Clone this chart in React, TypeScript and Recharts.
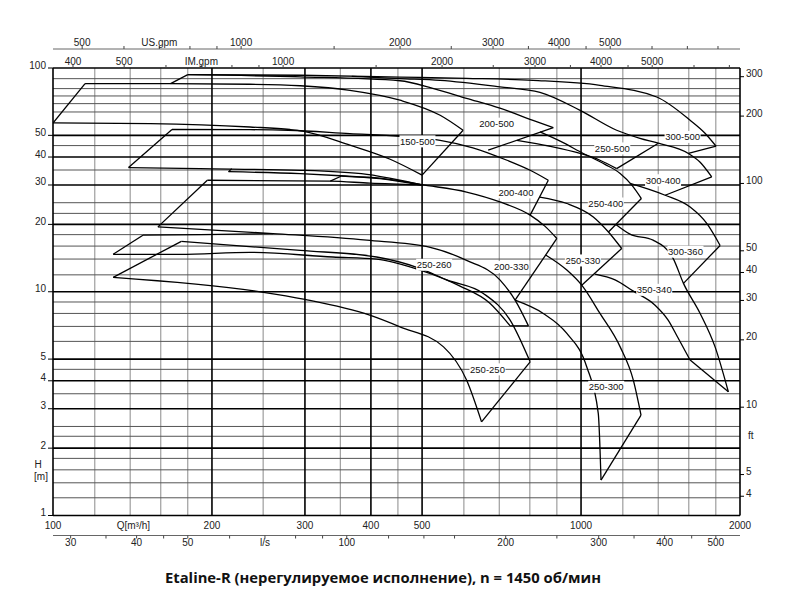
import React from 'react'
import { LineChart, Line, XAxis, YAxis, ReferenceLine, ReferenceDot } from 'recharts'

// every point is [Q m³/h, H m]
type Pt = [number, number]

// ── impeller curves ──
const top150_500: Pt[] = [[115, 85.2], [153, 85.2], [236, 84.6], [294, 83.3], [365, 79.5], [454, 71.8], [541, 61.5], [598, 52.7]]
const bot150_500: Pt[] = [[100, 56.8], [153, 56.4], [236, 54.5], [281, 53.1], [297, 52.2], [365, 45.2], [435, 39.1], [500, 33.2]]
const top300_500: Pt[] = [[180, 93.4], [294, 92.8], [454, 91.1], [607, 89.9], [811, 88.1], [1086, 83.7], [1391, 74.2], [1609, 58.4], [1717, 51.1], [1802, 44.7]]
const top250_500: Pt[] = [[368, 91.8], [454, 89.7], [541, 88.1], [702, 82.4], [836, 77.9], [996, 64.7], [1168, 52.7], [1293, 48.5], [1401, 46.1], [1597, 41.5], [1681, 37.9], [1768, 32.6]]
const top200_500: Pt[] = [[180, 93.4], [294, 91.3], [454, 87.7], [524, 81.1], [607, 73.2], [702, 66.1], [811, 58.4], [886, 54.2]]
const top200_400: Pt[] = [[168, 53.1], [236, 53.0], [279, 52.7], [365, 50.9], [454, 49.5], [541, 47.5], [624, 44.0], [724, 38.7], [801, 34.9], [867, 31.5]]
const bot250_500: Pt[] = [[756, 47.5], [874, 44.7], [996, 41.5], [1086, 38.7], [1168, 35.5]]
const top250_400: Pt[] = [[836, 51.8], [913, 47.1], [1010, 41.5], [1110, 37.1], [1186, 33.8], [1249, 29.9], [1301, 26.1]]
const bot300_400: Pt[] = [[1238, 30.5], [1443, 27.0], [1609, 23.9], [1730, 20.2], [1834, 16.1]]
const bot200_400: Pt[] = [[139, 35.9], [190, 35.5], [294, 34.9], [393, 33.5], [496, 30.2], [607, 27.9], [702, 25.2], [801, 22.0], [855, 19.6], [900, 17.3]]
const top200_330: Pt[] = [[196, 31.5], [335, 31.2], [398, 30.6], [499, 30.1]]
const sliverA: Pt[] = [[215, 34.4], [294, 33.7], [350, 33.0], [416, 32.2], [496, 30.2]]
const sliverB: Pt[] = [[352, 32.9], [416, 32.0], [499, 29.9]]
const bot250_400: Pt[] = [[835, 26.5], [940, 24.8], [1055, 21.6], [1127, 18.5], [1194, 15.6]]
const bot300_360: Pt[] = [[1164, 20.0], [1238, 18.1], [1369, 17.0], [1494, 14.1], [1563, 10.9], [1681, 8.0], [1794, 5.67], [1901, 3.57]]
const bot350_340: Pt[] = [[1063, 12.0], [1160, 11.3], [1256, 10.06], [1381, 8.71], [1462, 7.47], [1527, 6.21], [1609, 4.95]]
const bot250_330: Pt[] = [[857, 14.6], [940, 12.5], [1003, 10.7], [1086, 8.0], [1186, 5.67], [1256, 4.03], [1299, 2.81]]
const bot200_330: Pt[] = [[158, 19.5], [261, 18.2], [393, 17.0], [518, 15.8], [607, 13.8], [702, 11.3], [750, 9.17], [795, 7.04]]
const bot250_300: Pt[] = [[750, 9.17], [848, 8.0], [940, 6.51], [1025, 4.62], [1078, 2.86], [1091, 1.44]]
const top250_260: Pt[] = [[148, 17.9], [190, 18.0], [261, 18.2]]
const bot250_260: Pt[] = [[130, 14.7], [174, 14.7], [236, 15.0], [339, 14.3], [410, 14.0], [496, 12.5], [590, 10.6], [672, 8.89], [734, 7.04]]
const top250_250: Pt[] = [[175, 16.8], [294, 15.3], [410, 14.3], [496, 12.7], [557, 11.3], [653, 9.83], [734, 7.47], [801, 4.86]]
const bot250_250: Pt[] = [[130, 11.6], [247, 9.99], [300, 9.24], [398, 7.86], [454, 6.97], [549, 5.67], [607, 4.03], [648, 2.62]]

const curves: Pt[][] = [
  top150_500, bot150_500, top300_500, top250_500, top200_500, top200_400, bot250_500,
  top250_400, bot300_400, bot200_400, top200_330, sliverA, sliverB, bot250_400, bot300_360,
  bot350_340, bot250_330, bot200_330, bot250_300, top250_260, bot250_260, top250_250, bot250_250,
]

// straight closing edges of each working range
const edges: Pt[][] = [
  [[100, 56.8], [115, 85.2]], [[598, 52.7], [500, 33.2]],
  [[167, 85.2], [180, 93.4]], [[1802, 44.7], [1597, 41.5]],
  [[1401, 46.1], [1168, 35.5]], [[1768, 32.6], [1443, 27.0]],
  [[886, 54.2], [667, 42.9]],
  [[139, 35.9], [168, 53.1]], [[867, 31.5], [801, 22.0]],
  [[1301, 26.1], [1127, 18.5]], [[1834, 16.1], [1563, 10.9]],
  [[158, 19.5], [196, 31.5]], [[900, 17.3], [750, 9.17]],
  [[215, 34.4], [218, 35.5]], [[335, 31.2], [352, 32.9]],
  [[1194, 15.6], [1003, 10.7]], [[1901, 3.57], [1609, 4.95]],
  [[1299, 2.81], [1091, 1.44]],
  [[130, 14.7], [148, 17.9]], [[795, 7.04], [734, 7.04]],
  [[130, 11.6], [175, 16.8]], [[801, 4.86], [648, 2.62]],
]

const pumpNames = ['150-500', '200-500', '250-500', '300-500', '300-400', '250-400', '200-400', '300-360', '250-330', '200-330', '250-260', '350-340', '250-250', '250-300']
const labelQ = [490, 692, 1146, 1557, 1430, 1114, 753, 1577, 1008, 738, 527, 1376, 665, 1116]
const labelH = [47.0, 56.4, 43.7, 49.2, 31.5, 24.8, 27.8, 15.1, 13.8, 12.9, 13.2, 10.2, 4.5, 3.76]

// ── grid ──
const qGridMajor = [200, 300, 400, 500, 1000]
const qGridMinor = [120, 140, 160, 180, 250, 350, 450, 600, 700, 800, 900, 1200, 1400, 1600, 1800]
const hGridMajor = [2, 3, 4, 5, 10, 20, 30, 40, 50]
const hGridMinor = [1.2, 1.4, 1.6, 1.8, 2.26, 2.5, 3.5, 4.5, 6, 7, 8, 9, 11.9, 14, 16, 18, 22.4, 25, 35, 45, 63.6, 69.3, 75, 80.9, 89.6]

// ── axes ──
const qTicks = [100, 142, 200, 300, 400, 500, 1000, 2000]
const lsTicks = [30, 35, 40, 45, 50, 60, 70, 80, 90, 100, 120, 140, 160, 200, 250, 300, 350, 400, 450, 500]
const lsShown = [30, 40, 50, 100, 200, 300, 400, 500]
const usTicks = [500, 600, 700, 800, 900, 1000, 1500, 2000, 2500, 3000, 3500, 4000, 4500, 5000, 6000, 7000, 8000]
const usShown = [500, 1000, 2000, 3000, 4000, 5000]
const imTicks = [400, 500, 600, 700, 800, 900, 1000, 1500, 2000, 2500, 3000, 3500, 4000, 4500, 5000, 6000, 7000]
const imShown = [400, 500, 1000, 2000, 3000, 4000, 5000]
const hTicks = [1, 1.55, 2, 3, 4, 5, 10, 20, 30, 40, 50, 100]
const ftTicks = [4, 5, 7.5, 10, 20, 30, 40, 50, 100, 200, 300]

const Q_MIN = 100
const Q_MAX = 2000
const US_PER_M3H = 4.402868
const IM_PER_M3H = 3.666154
const LS_PER_M3H = 1 / 3.6
const FT_PER_M = 1 / 0.3048

const usDomain = [Q_MIN * US_PER_M3H, Q_MAX * US_PER_M3H]
const imDomain = [Q_MIN * IM_PER_M3H, Q_MAX * IM_PER_M3H]
const lsDomain = [Q_MIN * LS_PER_M3H, Q_MAX * LS_PER_M3H]

const font = '"Liberation Sans", Arial, sans-serif'
const txt = { fontFamily: font, fontSize: 10, fill: '#222' }

const toRows = (pts: Pt[]) => pts.map(([q, h]) => ({ q, h }))
// invisible rows that give each secondary flow axis its range
const anchorRows = (key: string, d: number[]) => d.map((v) => ({ [key]: v, h: 10 }))

function QTick({ x, y, payload }: any) {
  const v = payload.value
  const s = v === 142 ? 'Q[m³/h]' : String(v)
  return <text x={x} y={y + 10} dy="0.35em" textAnchor="middle" {...txt}>{s}</text>
}

function makeTopTick(shown: number[], unitAt: number, unit: string) {
  return function TopTick({ x, y, payload }: any) {
    const v = Math.round(payload.value)
    if (v === unitAt) return <text x={x} y={y - 2} dy="0.35em" textAnchor="middle" {...txt}>{unit}</text>
    if (!shown.includes(v)) return <g />
    return <text x={x} y={y - 2} dy="0.35em" textAnchor="middle" {...txt}>{v}</text>
  }
}
const UsTick = makeTopTick(usShown, 700, 'US.gpm')
const ImTick = makeTopTick(imShown, 700, 'IM.gpm')

function LsTick({ x, y, payload }: any) {
  const v = Math.round(payload.value)
  if (v === 70) return <text x={x} y={y + 2} dy="0.35em" textAnchor="middle" {...txt}>l/s</text>
  if (!lsShown.includes(v)) return <g />
  return <text x={x} y={y + 2} dy="0.35em" textAnchor="middle" {...txt}>{v}</text>
}

function HTick({ x, y, payload }: any) {
  const v = payload.value
  if (v === 1.55) {
    return (
      <g>
        <text x={x - 8} y={y - 8} dy="0.35em" textAnchor="middle" {...txt}>H</text>
        <text x={x - 5} y={y + 4} dy="0.35em" textAnchor="middle" {...txt}>[m]</text>
      </g>
    )
  }
  return (
    <g>
      <line x1={x + 2} x2={x + 7} y1={y} y2={y} stroke="#000" />
      <text x={x} y={y - 3} dy="0.35em" textAnchor="end" {...txt}>{v}</text>
    </g>
  )
}

function FtTick({ x, y, payload }: any) {
  const v = payload.value
  if (v === 7.5) return <text x={x + 2} y={y} dy="0.35em" textAnchor="start" {...txt}>ft</text>
  return (
    <g>
      <line x1={x - 6} x2={x - 2} y1={y} y2={y} stroke="#000" />
      <text x={x} y={y - 3} dy="0.35em" textAnchor="start" {...txt}>{v}</text>
    </g>
  )
}

function PumpLabel({ cx, cy, text }: any) {
  return (
    <g>
      <rect x={cx - 18} y={cy - 6} width={36} height={12} fill="#fff" />
      <text x={cx} y={cy} dy="0.35em" textAnchor="middle" fontFamily={font} fontSize={9.5} fill="#111">{text}</text>
    </g>
  )
}

const hidden = { stroke: 'transparent', dot: false, activeDot: false, isAnimationActive: false, legendType: 'none' as const }

export default function App() {
  return (
    <div style={{ position: 'absolute', left: 0, top: 0, width: 800, height: 602, background: '#fff' }}>
      <LineChart width={800} height={602} margin={{ top: 19, right: 0, bottom: 41.5, left: 0 }}>
        <XAxis xAxisId="b1q" dataKey="q" type="number" scale="log" domain={[Q_MIN, Q_MAX]} allowDataOverflow
          orientation="bottom" height={20} ticks={qTicks} interval={0} tickSize={0} tickMargin={0} tickLine={false}
          axisLine={{ stroke: '#000', strokeWidth: 1.6 }} tick={<QTick />} />
        <XAxis xAxisId="b2ls" dataKey="ls" type="number" scale="log" domain={lsDomain} allowDataOverflow
          orientation="bottom" height={25} ticks={lsTicks} interval={0} tickSize={3} tickMargin={2}
          tickLine={{ stroke: '#444' }} axisLine={{ stroke: '#666' }} tick={<LsTick />} />
        <XAxis xAxisId="t1im" dataKey="im" type="number" scale="log" domain={imDomain} allowDataOverflow
          orientation="top" height={19} ticks={imTicks} interval={0} tickSize={3} tickMargin={2}
          tickLine={{ stroke: '#444' }} axisLine={{ stroke: '#000', strokeWidth: 1.6 }} tick={<ImTick />} />
        <XAxis xAxisId="t2us" dataKey="us" type="number" scale="log" domain={usDomain} allowDataOverflow
          orientation="top" height={30} ticks={usTicks} interval={0} tickSize={3} tickMargin={2}
          tickLine={{ stroke: '#444' }} axisLine={{ stroke: '#666' }} tick={<UsTick />} />
        <YAxis yAxisId="h" type="number" scale="log" domain={[1, 100]} allowDataOverflow width={53}
          ticks={hTicks} interval={0} tickSize={5} tickMargin={2} tickLine={false}
          axisLine={{ stroke: '#000', strokeWidth: 1.6 }} tick={<HTick />} />
        <YAxis yAxisId="ft" orientation="right" type="number" scale="log" domain={[FT_PER_M, 100 * FT_PER_M]} allowDataOverflow width={60}
          ticks={ftTicks} interval={0} tickSize={4} tickMargin={2} tickLine={false}
          axisLine={{ stroke: '#000', strokeWidth: 1.6 }} tick={<FtTick />} />

        {qGridMinor.map((v) => (
          <ReferenceLine key={'qm' + v} xAxisId="b1q" yAxisId="h" x={v} stroke="#8a8a8a" strokeWidth={1} />
        ))}
        {hGridMinor.map((v) => (
          <ReferenceLine key={'hm' + v} xAxisId="b1q" yAxisId="h" y={v} stroke="#555" strokeWidth={1} />
        ))}
        {qGridMajor.map((v) => (
          <ReferenceLine key={'qM' + v} xAxisId="b1q" yAxisId="h" x={v} stroke="#000" strokeWidth={1.6} />
        ))}
        {hGridMajor.map((v) => (
          <ReferenceLine key={'hM' + v} xAxisId="b1q" yAxisId="h" y={v} stroke="#000" strokeWidth={1.6} />
        ))}

        <Line xAxisId="b2ls" yAxisId="h" data={anchorRows('ls', lsDomain)} dataKey="h" {...hidden} />
        <Line xAxisId="t1im" yAxisId="h" data={anchorRows('im', imDomain)} dataKey="h" {...hidden} />
        <Line xAxisId="t2us" yAxisId="h" data={anchorRows('us', usDomain)} dataKey="h" {...hidden} />

        {curves.map((c, i) => (
          <Line key={'c' + i} xAxisId="b1q" yAxisId="h" data={toRows(c)} dataKey="h" type="monotone"
            stroke="#000" strokeWidth={1.3} dot={false} activeDot={false} isAnimationActive={false} legendType="none" />
        ))}
        {edges.map((c, i) => (
          <Line key={'e' + i} xAxisId="b1q" yAxisId="h" data={toRows(c)} dataKey="h" type="linear"
            stroke="#000" strokeWidth={1.3} dot={false} activeDot={false} isAnimationActive={false} legendType="none" />
        ))}

        {pumpNames.map((n, i) => (
          <ReferenceDot key={n} xAxisId="b1q" yAxisId="h" x={labelQ[i]} y={labelH[i]} r={0}
            shape={(p: any) => <PumpLabel cx={p.cx} cy={p.cy} text={n} />} />
        ))}
      </LineChart>
      <div style={{
        position: 'absolute', left: 0, top: 567, width: 766, textAlign: 'center',
        fontFamily: '"Open Sans", sans-serif', fontWeight: 700, fontSize: 14.8, lineHeight: '20px', color: '#111',
      }}>
        Etaline-R (нерегулируемое исполнение), n = 1450 об/мин
      </div>
    </div>
  )
}
